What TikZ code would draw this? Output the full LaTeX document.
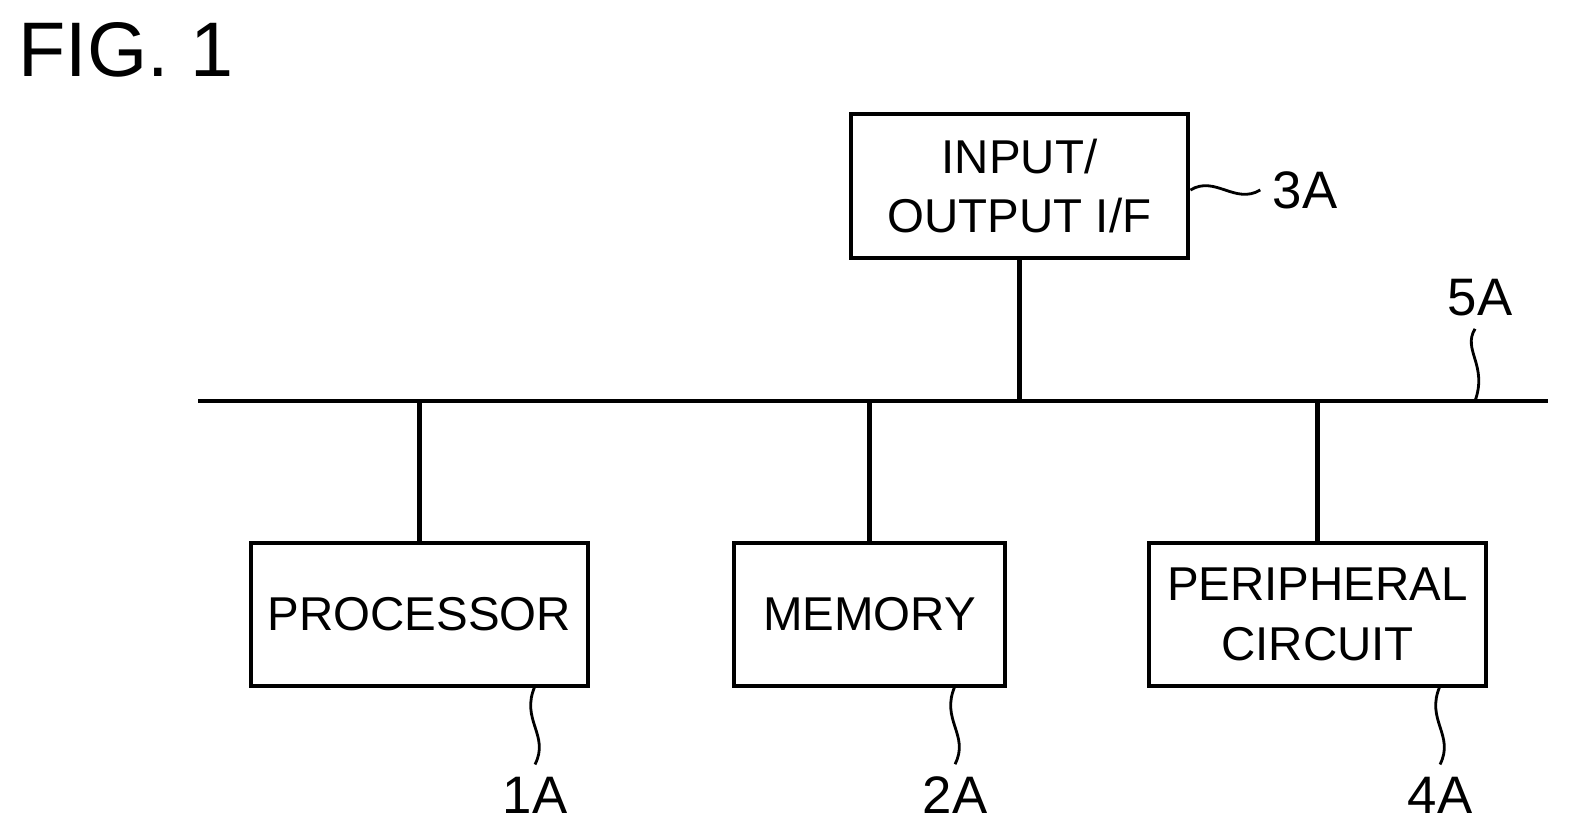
\documentclass[tikz,border=0pt]{standalone}
\usepackage{fontspec}
\setmainfont{Liberation Sans}
\usetikzlibrary{positioning}
\tikzset{
	block/.style={draw, line width=1.3pt, align=center, inner sep=0pt, font=\fontsize{13.5}{17}\selectfont},
	wire/.style={line width=1.3pt},
	lead/.style={line width=0.8pt},
	refnum/.style={font=\fontsize{15}{18}\selectfont}
}
\begin{document}
\begin{tikzpicture}[x=0.01cm, y=-0.01cm]
	\useasboundingbox (0,0) rectangle (1580,836);
	
	% Title
	\node[anchor=west, font=\fontsize{22}{26}\selectfont, inner sep=0pt] (fig) at (18,50) {FIG. 1};
	
	% Blocks
	\node[block, minimum width=3.37cm, minimum height=1.44cm] (io) at (1019.5,186) {INPUT/\\OUTPUT I/F};
	\node[block, minimum width=3.37cm, minimum height=1.43cm] (proc) at (419.5,614.5) {PROCESSOR};
	\node[block, minimum width=2.71cm, minimum height=1.43cm] (mem) at (869.5,614.5) {MEMORY};
	\node[block, minimum width=3.37cm, minimum height=1.43cm] (peri) at (1317.5,614.5) {PERIPHERAL\\CIRCUIT};
	
	% Bus
	\coordinate (busL) at (198,401);
	\coordinate (busR) at (1548,401);
	\draw[wire] (busL) -- (busR);
	\draw[wire] (io.south) -- (io.south |- busL);
	\draw[wire] (proc.north) -- (proc.north |- busL);
	\draw[wire] (mem.north) -- (mem.north |- busL);
	\draw[wire] (peri.north) -- (peri.north |- busL);
	
	% Reference numerals
	\node[refnum] (n3) at (1305,190) {3A};
	\node[refnum] (n5) at (1480,298) {5A};
	\node[refnum] (n1) at (535,795) {1A};
	\node[refnum] (n2) at (955,795) {2A};
	\node[refnum] (n4) at (1440,795) {4A};
	
	% Leader lines
	\draw[lead] (io.east |- n3) .. controls (1215,175) and (1235,205) .. (n3.west);
	\draw[lead] (n5.south -| 1475,0) .. controls (1462,350) and (1488,365) .. (1475,401);
	\draw[lead] (535,686) .. controls (520,720) and (550,735) .. (n1.north);
	\draw[lead] (955,686) .. controls (940,720) and (970,735) .. (n2.north);
	\draw[lead] (1440,686) .. controls (1425,720) and (1455,735) .. (n4.north);
\end{tikzpicture}
\end{document}
